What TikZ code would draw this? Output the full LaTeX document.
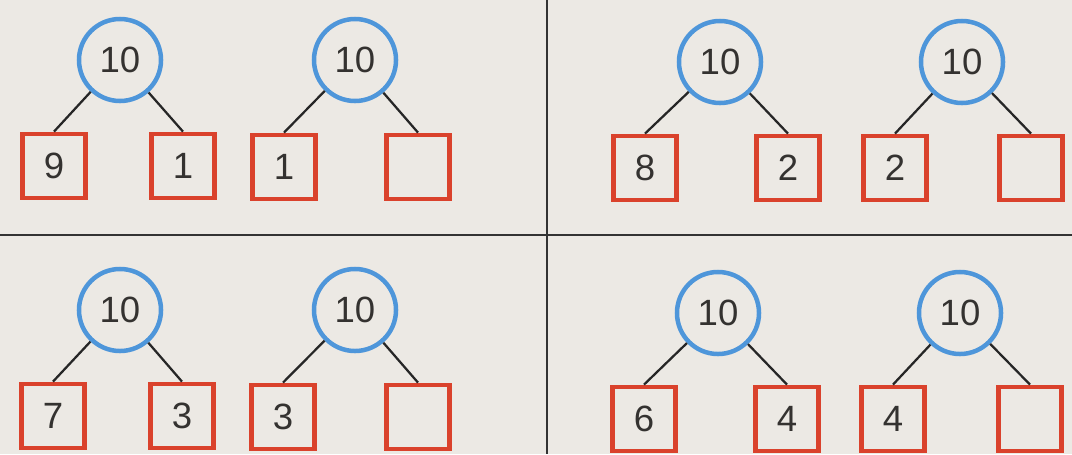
\documentclass[tikz,border=0pt]{standalone}
\usepackage{fontspec}
\setmainfont{Liberation Sans}
\usepackage{xcolor}
\usepackage{tikz}
\usetikzlibrary{positioning,shapes,calc}
\definecolor{paper}{RGB}{236,233,228}
\definecolor{ringblue}{RGB}{78,150,218}
\definecolor{boxred}{RGB}{218,66,44}
\definecolor{digitgray}{RGB}{52,50,48}
\tikzset{
  sumnode/.style={circle, draw=ringblue, line width=3.2pt, fill=paper,
                  minimum size=2.05cm, inner sep=0pt, text=digitgray,
                  font=\fontsize{26}{28}\selectfont},
  partbox/.style={rectangle, draw=boxred, line width=3.4pt, fill=paper,
                  minimum width=1.57cm, minimum height=1.6cm, inner sep=0pt,
                  text=digitgray, font=\fontsize{26}{28}\selectfont},
  branch/.style={draw=black!85, line width=1.6pt},
  divider/.style={draw=black!80, line width=1.2pt}
}

\begin{document}
\begin{tikzpicture}[x=0.025cm, y=-0.025cm]
    \fill[paper] (0,0) rectangle (1072,454);
    \useasboundingbox (0,0) rectangle (1072,454);

    % dividers
    \coordinate (vtop) at (547,0);
    \coordinate (vbot) at (547,454);
    \coordinate (hleft) at (0,235);
    \coordinate (hright) at (1072,235);
    \draw[divider] (vtop) -- (vbot);
    \draw[divider] (hleft) -- (hright);

    % Top left
    \node[sumnode] (TLa) at (120,60) {10};
    \node[partbox] (TLa1) at (54,166) {9};
    \node[partbox] (TLa2) at (183,166) {1};
    \node[sumnode] (TLb) at (355,60) {10};
    \node[partbox] (TLb1) at (284,167) {1};
    \node[partbox] (TLb2) at (418,167) {};

    % Top right
    \node[sumnode] (TRa) at (720,62) {10};
    \node[partbox] (TRa1) at (645,168) {8};
    \node[partbox] (TRa2) at (788,168) {2};
    \node[sumnode] (TRb) at (962,62) {10};
    \node[partbox] (TRb1) at (895,168) {2};
    \node[partbox] (TRb2) at (1031,168) {};

    % Bottom left
    \node[sumnode] (BLa) at (120,310) {10};
    \node[partbox] (BLa1) at (53,416) {7};
    \node[partbox] (BLa2) at (182,416) {3};
    \node[sumnode] (BLb) at (355,310) {10};
    \node[partbox] (BLb1) at (283,417) {3};
    \node[partbox] (BLb2) at (418,417) {};

    % Bottom right
    \node[sumnode] (BRa) at (718,313) {10};
    \node[partbox] (BRa1) at (644,419) {6};
    \node[partbox] (BRa2) at (787,419) {4};
    \node[sumnode] (BRb) at (960,313) {10};
    \node[partbox] (BRb1) at (893,419) {4};
    \node[partbox] (BRb2) at (1030,419) {};

    % branches
    \draw[branch] (TLa) -- (TLa1.north);  \draw[branch] (TLa) -- (TLa2.north);
    \draw[branch] (TLb) -- (TLb1.north);  \draw[branch] (TLb) -- (TLb2.north);
    \draw[branch] (TRa) -- (TRa1.north);  \draw[branch] (TRa) -- (TRa2.north);
    \draw[branch] (TRb) -- (TRb1.north);  \draw[branch] (TRb) -- (TRb2.north);
    \draw[branch] (BLa) -- (BLa1.north);  \draw[branch] (BLa) -- (BLa2.north);
    \draw[branch] (BLb) -- (BLb1.north);  \draw[branch] (BLb) -- (BLb2.north);
    \draw[branch] (BRa) -- (BRa1.north);  \draw[branch] (BRa) -- (BRa2.north);
    \draw[branch] (BRb) -- (BRb1.north);  \draw[branch] (BRb) -- (BRb2.north);
  \end{tikzpicture}
\end{document}
